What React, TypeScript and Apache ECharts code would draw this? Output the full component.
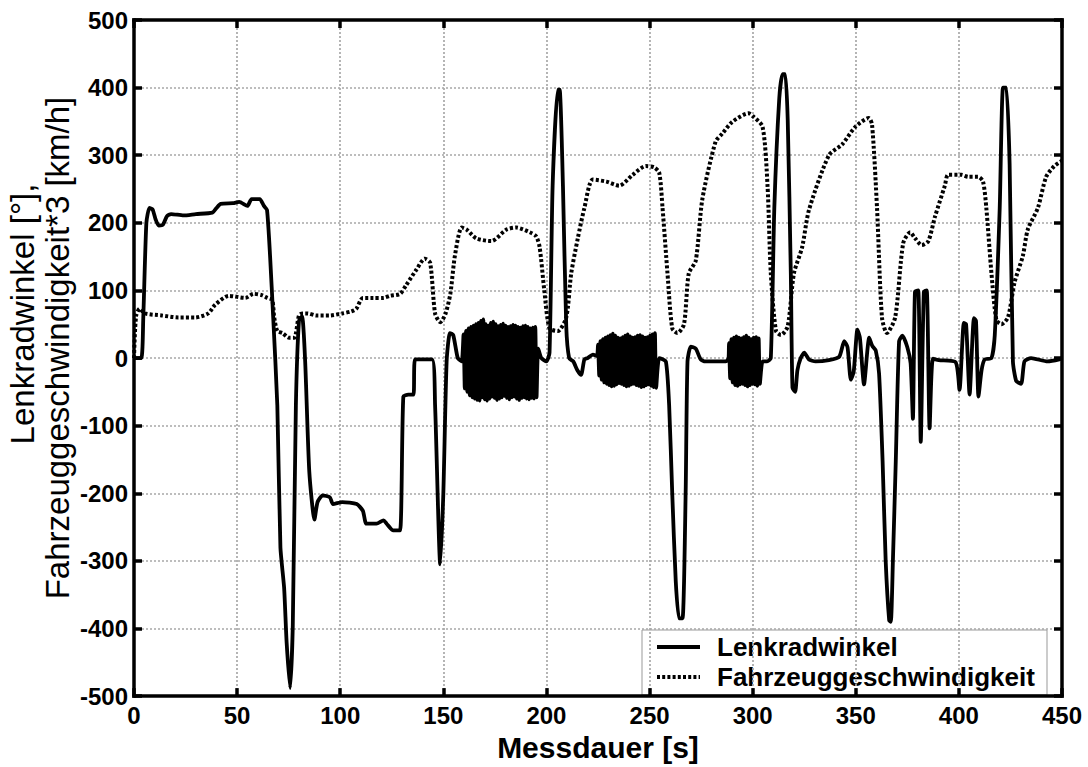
import React, { useEffect, useRef } from "react";
import * as echarts from "echarts";

const FONT = "'Liberation Sans', Arial, Helvetica, sans-serif";

const xMin = 0;
const xMax = 450;
const xStep = 50;
const yMin = -500;
const yMax = 500;
const yStep = 100;

const seriesNames = ["Lenkradwinkel", "Fahrzeuggeschwindigkeit"];
const yLabelLine1 = "Lenkradwinkel [°],";
const yLabelLine2 = "Fahrzeuggeschwindigkeit*3 [km/h]";
const xLabel = "Messdauer [s]";

// Lenkradwinkel: segments [time s, angle °]
const steerA = [
  [0, 0], [3.5, 0], [4.5, 60], [6, 200], [7.5, 222], [9, 220], [10.5, 205], [12, 196], [14, 197],
  [16, 210], [18, 213], [24, 211], [30, 213], [38, 215], [40, 222], [42, 228], [48, 229], [51, 231],
  [55, 225], [57, 235], [61, 235], [63, 225], [64.5, 219], [66, 150], [67.5, 60], [69.5, -70],
  [71, -280], [72.8, -340], [74, -420], [75.7, -488], [77, -395], [78.5, -70], [80, 55], [81.5, 62],
  [83, -5], [85, -168], [87.5, -239], [89, -213], [91.5, -203], [95, -206], [96.5, -216], [101, -213],
  [108, -216], [111, -226], [112.7, -245], [117.6, -245], [121, -240], [122.5, -245], [125.7, -255],
  [129, -255], [130.6, -57], [133, -54], [135.5, -54], [136.3, -2], [144.5, -2], [146, -70],
  [148.5, -305], [150, -200], [151.6, -5], [153.2, 37], [154.8, 34], [157, 0], [158.9, -5],
];

const osc1Start = 159.8;
const osc1Step = 0.6;
const osc1Values = [
  35, -45, 40, -50, 44, -55, 46, -58, 48, -60, 50, -62, 52, -63, 55, -58, 57, -61, 50, -63,
  48, -60, 52, -57, 54, -59, 50, -62, 47, -60, 49, -58, 51, -56, 48, -59, 46, -61, 47, -58,
  49, -57, 48, -60, 46, -62, 45, -59, 47, -58, 48, -60, 46, -61, 44, -59, 45, -60, 46, -58,
];

const steerB = [
  [196, 14], [197.5, 0], [200, -5], [201.5, 8], [203, 255], [205.5, 397], [206.4, 397], [208, 255],
  [209.6, 47], [211, 0], [213, -5], [215, -18], [216.8, -25], [218.4, -2], [220, 0], [222.5, 5],
  [224.5, 3],
];

const osc2Start = 225;
const osc2Step = 0.6;
const osc2Values = [
  20, -26, 25, -32, 28, -36, 30, -38, 32, -40, 34, -42, 36, -41, 33, -39, 30, -37, 29, -38,
  31, -40, 33, -42, 35, -41, 32, -39, 30, -38, 31, -40, 33, -41, 34, -43, 32, -42, 30, -40,
  31, -39, 33, -41, 35, -43, 37, -44,
];

const steerC = [
  [254.7, 0], [257.9, -5], [259.5, -70], [261, -200], [262.7, -330], [264.3, -385], [266, -385],
  [267.5, -200], [268.4, -5], [270, 17], [272.4, 14], [274.8, -2], [277, -5], [287, -5], [288.3, 0],
];

const osc3Start = 288.5;
const osc3Step = 0.6;
const osc3Values = [
  22, -30, 28, -36, 30, -40, 32, -41, 30, -39, 29, -38, 31, -40, 33, -42, 30, -40, 28, -38,
  30, -39, 31, -41, 29, -38,
];

const steerD = [
  [304.8, -5], [307, -5], [308.8, 0], [310.5, 222], [312.9, 384], [314.5, 420], [315.8, 420],
  [317, 352], [318.5, 125], [319.3, -44], [320.6, -50], [321.7, -18], [323.3, 0], [325, 8],
  [327.3, -2], [330.5, -5], [337, -3], [342, 2], [344.4, 25], [346, 16], [347.6, -32], [349, -20],
  [350.8, 42], [352, 30], [354, -39], [356.5, 30], [358, 18], [359.7, 11], [361.3, -23], [363, -152],
  [364.5, -300], [366.2, -388], [367, -390], [368, -300], [369.4, -152], [371, 25], [372.6, 33],
  [375, 16], [376.6, -8], [377.7, -90], [378.7, 98], [380.3, 100], [381.5, -124], [383, 98],
  [384.4, 100], [385.8, -104], [387.4, -1], [390.3, -3], [398.4, -6], [400.3, -47], [402.4, 52],
  [403.5, 50], [405.2, -54], [407.3, 59], [408.3, 55], [409.5, -57], [411, -18], [412.5, -2],
  [415.8, 0], [417.4, 34], [419.8, 222], [421.4, 400], [423, 400], [424.6, 287], [426.2, -5],
  [427.8, -34], [430.2, -38], [431.8, -5], [435, 0], [443, -5], [448.7, -2], [450, 0],
];

// Fahrzeuggeschwindigkeit*3: [time s, value]
const speed = [
  [0, 0], [1, 62], [2.8, 73], [5.2, 66], [13.4, 63], [21.5, 60], [29.6, 60], [36, 66], [39.4, 79],
  [46, 92], [54, 89], [58, 95], [62, 93], [64.7, 89], [67, 86], [68, 60], [69.5, 40], [72, 37],
  [75.2, 30], [77.7, 30], [80, 63], [81.8, 66], [84.2, 66], [88.3, 63], [94.8, 63], [101, 66],
  [105.4, 69], [107.8, 73], [111, 89], [116, 89], [121, 89], [124, 92], [129, 95], [132, 108],
  [137, 131], [141, 147], [143.6, 141], [146, 66], [148.5, 53], [151, 65], [153.4, 95], [155.6, 151],
  [158.9, 193], [161.3, 190], [166, 177], [173.3, 173], [180.6, 190], [185.4, 193], [191.9, 186],
  [195, 180], [196.7, 164], [199, 99], [201.5, 44], [205.5, 40], [209.6, 60], [212, 125],
  [215.2, 177], [218.4, 222], [222.5, 264], [229, 261], [235.3, 255], [241.8, 271], [248.2, 284],
  [252.3, 282], [254.7, 274], [256.3, 222], [258.7, 125], [261, 44], [263.5, 37], [266.7, 50],
  [269, 125], [272.4, 144], [275.6, 235], [282, 320], [285.3, 332], [290, 349], [298, 362],
  [300, 358], [304.8, 342], [307.2, 255], [308.8, 125], [311.3, 40], [313.7, 34], [317, 47],
  [320, 125], [324, 164], [327.3, 219], [337, 300], [343.4, 316], [349.8, 342], [356.3, 355],
  [357.9, 345], [360.3, 222], [362.7, 60], [365.1, 37], [369.1, 60], [373, 170], [376.4, 186],
  [378.8, 177], [382, 167], [385.2, 173], [388.4, 209], [393.2, 255], [394.8, 271], [401.3, 271],
  [404.5, 268], [409.3, 268], [411.7, 261], [413.3, 222], [415.8, 125], [418.2, 56], [420.6, 50],
  [423.8, 60], [427, 112], [431, 151], [433.4, 190], [438.3, 222], [442.3, 268], [446.3, 284],
  [450, 292],
];

function oscPairs(start: number, step: number, values: number[]) {
  return values.map((v, i) => [start + i * step, v]);
}

const steering = [
  ...steerA,
  ...oscPairs(osc1Start, osc1Step, osc1Values),
  ...steerB,
  ...oscPairs(osc2Start, osc2Step, osc2Values),
  ...steerC,
  ...oscPairs(osc3Start, osc3Step, osc3Values),
  ...steerD,
];

const SOLID = { color: "#000", width: 3.8, join: "round" };
const DOTTED = { color: "#000", width: 4, type: [3, 2.2], cap: "butt" };

export default function App() {
  const ref = useRef<HTMLDivElement>(null);

  useEffect(() => {
    document.body.style.margin = "0";
    if (!ref.current) return;
    const chart = echarts.init(ref.current, undefined, { renderer: "svg" });

    const tickStyle = { show: true, inside: true, length: 8, lineStyle: { color: "#000", width: 3.5 } };
    const frameLine = { show: true, onZero: false, lineStyle: { color: "#000", width: 3.5, cap: "square" } };
    const gridLine = { show: true, lineStyle: { color: "#a8a8a8", type: [2, 2], width: 1.7 } };
    const labelStyle = { fontSize: 24, fontWeight: "bold", color: "#000", fontFamily: FONT };

    const legendX = 642;
    const legendY = 630;
    const legendW = 405;
    const legendH = 65;
    const row1 = legendY + 17;
    const row2 = legendY + 47;

    chart.setOption({
      animation: false,
      backgroundColor: "#fff",
      grid: {
        left: 134,
        right: 26,
        top: 20,
        bottom: 61,
        show: false,
      },
      xAxis: [
        {
          type: "value",
          min: xMin,
          max: xMax,
          interval: xStep,
          axisLine: frameLine,
          axisTick: tickStyle,
          axisLabel: { ...labelStyle, margin: 7 },
          splitLine: gridLine,
          name: xLabel,
          nameLocation: "middle",
          nameGap: 28,
          nameTextStyle: { fontSize: 30, fontWeight: "bold", color: "#000", fontFamily: FONT },
        },
        {
          type: "value",
          position: "top",
          min: xMin,
          max: xMax,
          interval: xStep,
          axisLine: frameLine,
          axisTick: tickStyle,
          axisLabel: { show: false },
          splitLine: { show: false },
        },
      ],
      yAxis: [
        {
          type: "value",
          min: yMin,
          max: yMax,
          interval: yStep,
          axisLine: frameLine,
          axisTick: tickStyle,
          axisLabel: { ...labelStyle, margin: 6 },
          splitLine: gridLine,
        },
        {
          type: "value",
          position: "right",
          min: yMin,
          max: yMax,
          interval: yStep,
          axisLine: frameLine,
          axisTick: tickStyle,
          axisLabel: { show: false },
          splitLine: { show: false },
        },
      ],
      graphic: [
        {
          type: "text",
          x: 22,
          y: 314,
          rotation: Math.PI / 2,
          style: {
            text: yLabelLine1,
            fontSize: 33,
            fontFamily: FONT,
            fill: "#000",
            align: "center",
            verticalAlign: "middle",
          },
        },
        {
          type: "text",
          x: 57,
          y: 348,
          rotation: Math.PI / 2,
          style: {
            text: yLabelLine2,
            fontSize: 33,
            fontFamily: FONT,
            fill: "#000",
            align: "center",
            verticalAlign: "middle",
          },
        },
        {
          type: "group",
          z: 100,
          children: [
            {
              type: "rect",
              shape: { x: legendX, y: legendY, width: legendW, height: legendH },
              style: { fill: "#fff", stroke: "#999", lineWidth: 1 },
            },
            {
              type: "line",
              shape: { x1: legendX + 15, y1: row1, x2: legendX + 58, y2: row1 },
              style: { stroke: "#000", lineWidth: 3.8 },
            },
            {
              type: "line",
              shape: { x1: legendX + 15, y1: row2, x2: legendX + 58, y2: row2 },
              style: { stroke: "#000", lineWidth: 4, lineDash: [3, 2.2] },
            },
            {
              type: "text",
              x: legendX + 75,
              y: row1,
              style: {
                text: seriesNames[0],
                fontSize: 26,
                fontWeight: "bold",
                fontFamily: FONT,
                fill: "#000",
                verticalAlign: "middle",
              },
            },
            {
              type: "text",
              x: legendX + 75,
              y: row2,
              style: {
                text: seriesNames[1],
                fontSize: 26,
                fontWeight: "bold",
                fontFamily: FONT,
                fill: "#000",
                verticalAlign: "middle",
              },
            },
          ],
        },
      ],
      series: [
        {
          name: seriesNames[1],
          type: "line",
          data: speed,
          showSymbol: false,
          symbol: "none",
          smooth: 0.25,
          lineStyle: DOTTED,
          itemStyle: { color: "#000" },
          z: 2,
        },
        {
          name: seriesNames[0],
          type: "line",
          data: steering,
          showSymbol: false,
          symbol: "none",
          smooth: 0.2,
          lineStyle: SOLID,
          itemStyle: { color: "#000" },
          z: 3,
        },
      ],
    });

    return () => chart.dispose();
  }, []);

  return (
    <div
      ref={ref}
      style={{ position: "absolute", left: 0, top: 0, width: 1088, height: 767 }}
    />
  );
}
